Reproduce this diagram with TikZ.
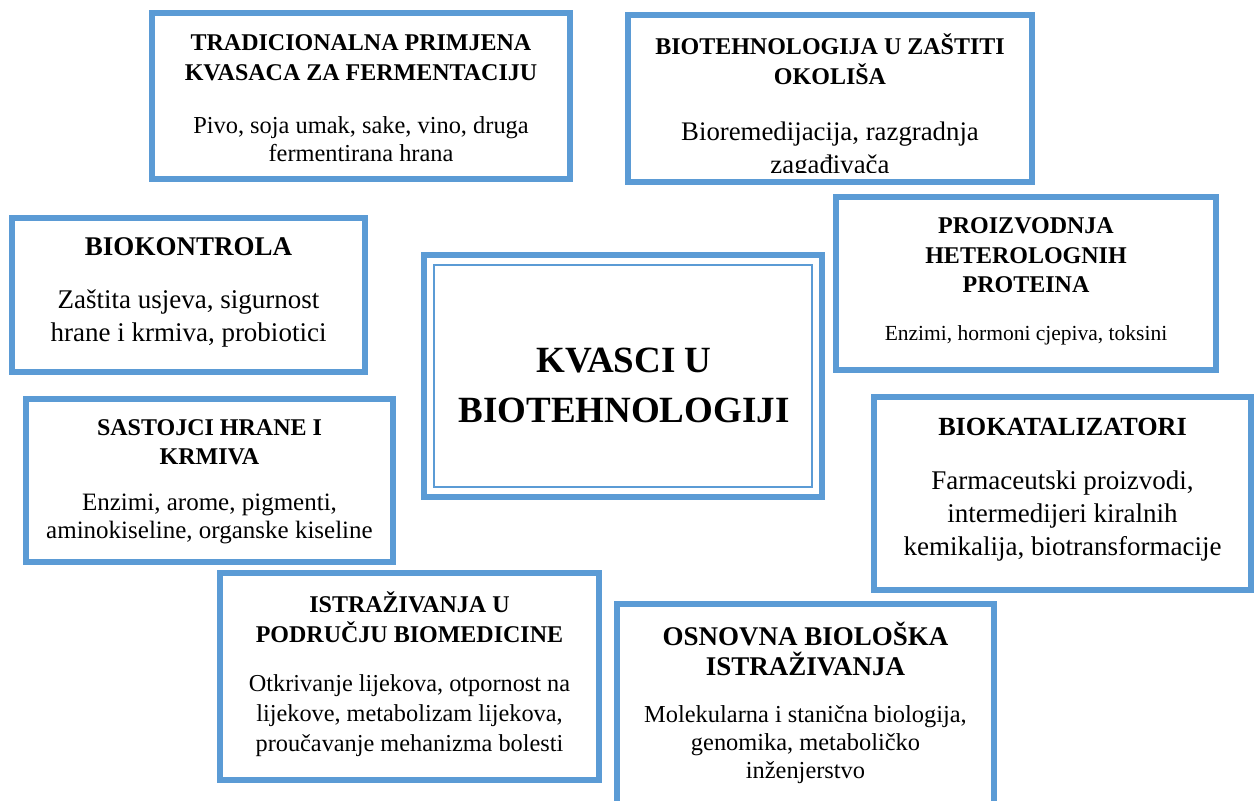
\documentclass[tikz,border=0pt]{standalone}
\usepackage{fontspec}
\setmainfont{Liberation Serif}
\definecolor{bblue}{HTML}{5B9BD5}
\begin{document}
\begin{tikzpicture}[x=1pt,y=-1pt,
  box/.style={draw=bblue, line width=6pt, inner sep=0pt, outer sep=0pt, rectangle},
  thinbox/.style={draw=bblue, line width=2pt, inner sep=0pt, outer sep=0pt, rectangle},
  txt/.style={align=center, inner sep=0pt, text=black}]
\useasboundingbox[fill=white] (0,0) rectangle (1254,801);
\clip (0,0) rectangle (1254,801);

% Box 1
\node[txt, font={\fontsize{24}{30}\selectfont\bfseries}] (t1) at (361,58) {TRADICIONALNA PRIMJENA\\KVASACA ZA FERMENTACIJU};
\node[txt, font={\fontsize{24.4}{28}\selectfont}] (d1) at (361,139) {Pivo, soja umak, sake, vino, druga\\fermentirana hrana};
\node[box, minimum width=418pt, minimum height=166pt] (b1) at (361,96) {};

% Box 2
\node[txt, font={\fontsize{24}{30}\selectfont\bfseries}] (t2) at (830,59) {BIOTEHNOLOGIJA U ZAŠTITI\\OKOLIŠA};
\begin{scope}
\clip (628,15) rectangle (1032,172.5);
\node[txt, font={\fontsize{26.8}{33}\selectfont}] (d2) at (830,151) {Bioremedijacija, razgradnja\\zagađivača};
\end{scope}
\node[box, minimum width=404pt, minimum height=167pt] (b2) at (830,98.5) {};

% Box 3
\node[txt, font={\fontsize{27}{33}\selectfont\bfseries}] (t3) at (188.5,247) {BIOKONTROLA};
\node[txt, font={\fontsize{27}{33}\selectfont}] (d3) at (188.5,318.5) {Zaštita usjeva, sigurnost\\hrane i krmiva, probiotici};
\node[box, minimum width=353pt, minimum height=154pt] (b3) at (188.5,295) {};

% Box 4
\node[txt, font={\fontsize{24}{29.5}\selectfont\bfseries}] (t4) at (1026,255.5) {PROIZVODNJA\\HETEROLOGNIH\\PROTEINA};
\node[txt, font={\fontsize{21.5}{26}\selectfont}] (d4) at (1026,335) {Enzimi, hormoni cjepiva, toksini};
\node[box, minimum width=380pt, minimum height=173pt] (b4) at (1026,283.5) {};

% Centre
\node[box, minimum width=398pt, minimum height=242pt] (c0) at (622.5,376) {};
\node[thinbox, minimum width=378pt, minimum height=222pt] (c1) at (622.5,376) {};
\node[txt, font={\fontsize{37}{50}\selectfont\bfseries}] (ct) at (624,385) {KVASCI U\\BIOTEHNOLOGIJI};

% Box 6
\node[txt, font={\fontsize{24}{29}\selectfont\bfseries}] (t6) at (209.5,442.5) {SASTOJCI HRANE I\\KRMIVA};
\node[txt, font={\fontsize{25}{28}\selectfont}] (d6) at (209.5,519) {Enzimi, arome, pigmenti,\\aminokiseline, organske kiseline};
\node[box, minimum width=367pt, minimum height=163pt] (b6) at (209.5,480.5) {};

% Box 7
\node[txt, font={\fontsize{26.2}{33}\selectfont\bfseries}] (t7) at (1062.5,427) {BIOKATALIZATORI};
\node[txt, font={\fontsize{27}{33}\selectfont}] (d7) at (1062.5,516) {Farmaceutski proizvodi,\\intermedijeri kiralnih\\kemikalija, biotransformacije};
\node[box, minimum width=377pt, minimum height=193pt] (b7) at (1062.5,493.5) {};

% Box 8
\node[txt, font={\fontsize{24}{30}\selectfont\bfseries}] (t8) at (409.5,617) {ISTRAŽIVANJA U\\PODRUČJU BIOMEDICINE};
\node[txt, font={\fontsize{24.3}{30}\selectfont}] (d8) at (409.5,716) {Otkrivanje lijekova, otpornost na\\lijekove, metabolizam lijekova,\\proučavanje mehanizma bolesti};
\node[box, minimum width=379pt, minimum height=207pt] (b8) at (409.5,676.5) {};

% Box 9
\node[txt, font={\fontsize{27}{30}\selectfont\bfseries}] (t9) at (805.5,649) {OSNOVNA BIOLOŠKA\\ISTRAŽIVANJA};
\node[txt, font={\fontsize{24.4}{28}\selectfont}] (d9) at (805.5,744.5) {Molekularna i stanična biologija,\\genomika, metaboličko\\inženjerstvo};
\node[box, minimum width=377pt, minimum height=226pt] (b9) at (805.5,717) {};
\end{tikzpicture}
\end{document}
